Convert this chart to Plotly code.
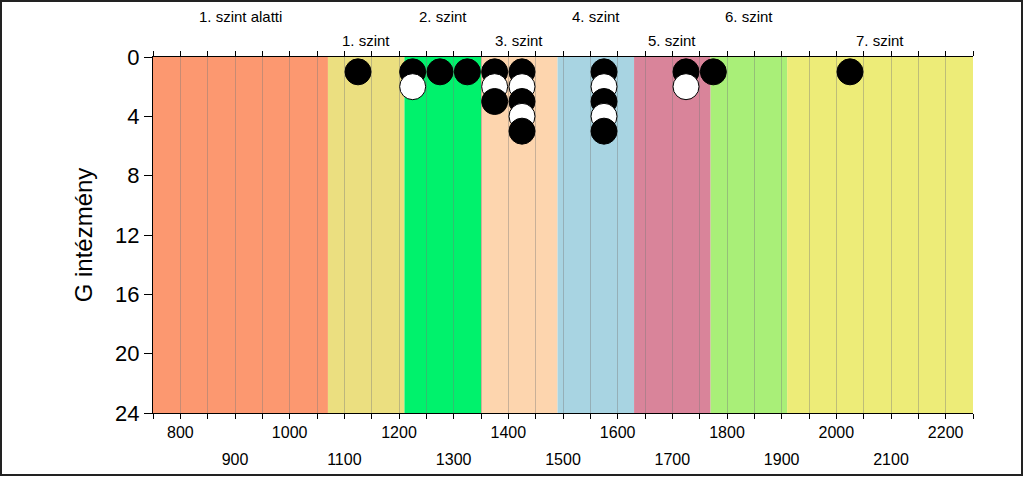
import plotly.graph_objects as go

# level thresholds (score) and names
level_edges = [750, 1070, 1210, 1350, 1490, 1630, 1770, 1910, 2250]
level_names = ["1. szint alatti", "1. szint", "2. szint", "3. szint",
               "4. szint", "5. szint", "6. szint", "7. szint"]
level_colors = ["#FC9870", "#EBDF80", "#00F26C", "#FDD5AE",
                "#A8D4E2", "#D9849A", "#A9EF78", "#EDEC78"]

# one dot per school, stacked in 50-point bins
dot_x = [1125, 1225, 1225, 1275, 1325, 1375, 1375, 1375,
         1425, 1425, 1425, 1425, 1425,
         1575, 1575, 1575, 1575, 1575,
         1725, 1725, 1775, 2025]
dot_y = [1, 1, 2, 1, 1, 1, 2, 3,
         1, 2, 3, 4, 5,
         1, 2, 3, 4, 5,
         1, 2, 1, 1]

ticks_minor = list(range(750, 2251, 50))
labels_row1 = [800, 1000, 1200, 1400, 1600, 1800, 2000, 2200]
labels_row2 = [900, 1100, 1300, 1500, 1700, 1900, 2100]
y_ticks = [0, 4, 8, 12, 16, 20, 24]

fig = go.Figure()

dot_colors = ["black" if y % 2 == 1 else "white" for y in dot_y]
fig.add_trace(go.Scatter(
    x=dot_x, y=dot_y, mode="markers",
    marker=dict(size=26, color=dot_colors, line=dict(color="black", width=1)),
    hoverinfo="x+y", showlegend=False, cliponaxis=False,
))
# invisible trace so the second axis is drawn
fig.add_trace(go.Scatter(x=[750, 2250], y=[0, 0], xaxis="x2", mode="markers",
                         marker=dict(opacity=0), hoverinfo="skip", showlegend=False))

shapes = []
annotations = []
for i, name in enumerate(level_names):
    x0, x1 = level_edges[i], level_edges[i + 1]
    shapes.append(dict(type="rect", xref="x", yref="paper", x0=x0, x1=x1, y0=0, y1=1,
                       fillcolor=level_colors[i], line=dict(width=0), layer="below"))
    annotations.append(dict(x=(x0 + x1) / 2, xref="x", yref="paper",
                            y=1 + (57 - 17) / 356 if i % 2 == 0 else 1 + (57 - 41) / 356,
                            yanchor="middle",
                            text=name, showarrow=False,
                            font=dict(size=15, color="black")))

# frame around the whole picture
shapes.append(dict(type="rect", xref="paper", yref="paper",
                   x0=-152 / 820, x1=1 + 49 / 820, y0=-62 / 356, y1=1 + 56 / 356,
                   line=dict(color="#222222", width=2), layer="above"))

tick_text = [str(v) if v in labels_row1 else "" for v in ticks_minor]

fig.update_layout(
    width=1024, height=478,
    margin=dict(l=153, r=51, t=57, b=65, autoexpand=False),
    paper_bgcolor="white", plot_bgcolor="white",
    font=dict(family="Arial, Liberation Sans, sans-serif", color="black"),
    shapes=shapes, annotations=annotations,
    xaxis=dict(range=[750, 2250], tickmode="array", tickvals=ticks_minor,
               ticktext=tick_text, ticks="outside", ticklen=5, tickcolor="black",
               showline=True, linecolor="black", linewidth=1, mirror="ticks",
               showgrid=True, gridcolor="rgba(120,120,120,0.4)", gridwidth=1,
               zeroline=False, tickfont=dict(size=16), layer="above traces",
               automargin=False),
    xaxis2=dict(range=[750, 2250], overlaying="x", side="bottom", matches="x",
                tickmode="array", tickvals=labels_row2,
                ticktext=[str(v) for v in labels_row2],
                ticks="", showgrid=False, showline=False, zeroline=False,
                tickfont=dict(size=16), ticklabelstandoff=35, automargin=False),
    yaxis=dict(range=[24, 0], tickmode="array", tickvals=y_ticks,
               ticks="outside", ticklen=8, tickcolor="black",
               showline=True, linecolor="black", linewidth=1,
               showgrid=False, zeroline=False, tickfont=dict(size=22),
               title=dict(text="G intézmény", font=dict(size=24), standoff=15),
               automargin=False),
)

fig.write_html("out.html", config={"displayModeBar": False},
               post_script="document.body.style.margin='0';")
